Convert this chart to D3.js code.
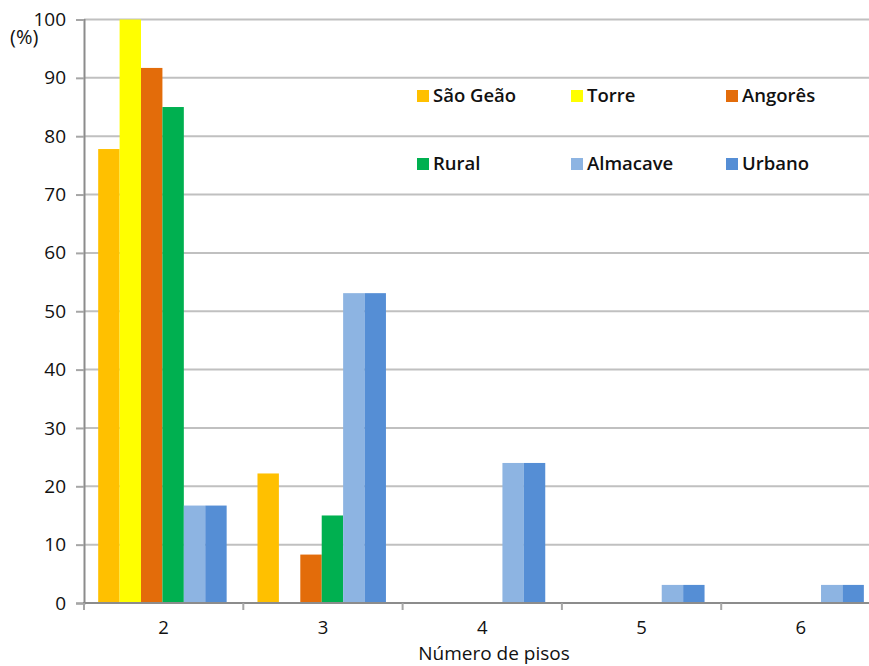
<!DOCTYPE html>
<html>
<head>
<meta charset="utf-8">
<script src="https://cdn.jsdelivr.net/npm/d3@7"></script>
<style>
  html, body { margin: 0; padding: 0; background: #fff; }
  svg { display: block; }
  text { font-family: "Open Sans", "DejaVu Sans", sans-serif; fill: #111; }
</style>
</head>
<body>
<svg id="chart" width="869" height="666"></svg>
<script>
// Floors per building, share of buildings (%) for each area
const categories = ["2", "3", "4", "5", "6"];
const seriesNames = ["São Geão", "Torre", "Angorês", "Rural", "Almacave", "Urbano"];
const seriesColors = ["#FFC000", "#FFFF00", "#E36C0A", "#00B050", "#8DB4E2", "#558ED5"];
const saoGeao  = [77.8, 22.2, 0, 0, 0];
const torre    = [100, 0, 0, 0, 0];
const angores  = [91.7, 8.3, 0, 0, 0];
const rural    = [85, 15, 0, 0, 0];
const almacave = [16.7, 53.1, 24, 3.1, 3.1];
const urbano   = [16.7, 53.1, 24, 3.1, 3.1];
const yTicks = [0, 10, 20, 30, 40, 50, 60, 70, 80, 90, 100];

const seriesValues = [saoGeao, torre, angores, rural, almacave, urbano];

(function draw() {
  const svg = d3.select("#chart");
  const mLeft = 84, mRight = 880.5, mTop = 19.5, mBottom = 603;

  const x = d3.scaleBand().domain(categories).range([mLeft, mRight]).paddingInner(0).paddingOuter(0);
  const xs = d3.scaleBand().domain(seriesNames).range([0, x.bandwidth()])
    .paddingInner(0).paddingOuter(0.72).align(0.46);
  const y = d3.scaleLinear().domain([0, 100]).range([mBottom, mTop]);

  // horizontal gridlines
  svg.append("g").selectAll("line").data(yTicks.filter(d => d > 0)).join("line")
    .attr("x1", mLeft).attr("x2", 869)
    .attr("y1", d => y(d)).attr("y2", d => y(d))
    .attr("stroke", "#c0c0c0").attr("stroke-width", 2);

  // bars
  const groups = svg.append("g").selectAll("g").data(seriesNames).join("g")
    .attr("fill", (d, i) => seriesColors[i]);
  groups.selectAll("rect")
    .data((name, i) => categories.map((c, j) => ({ c, name, v: seriesValues[i][j] })))
    .join("rect")
    .attr("x", d => x(d.c) + xs(d.name))
    .attr("width", xs.bandwidth())
    .attr("y", d => y(d.v))
    .attr("height", d => y(0) - y(d.v));

  // y axis
  const yAxis = svg.append("g").attr("transform", `translate(${mLeft},0)`)
    .call(d3.axisLeft(y).tickValues(yTicks).tickSize(8).tickPadding(10));
  yAxis.select(".domain").attr("stroke", "#8c8c8c").attr("stroke-width", 2);
  yAxis.selectAll(".tick line").attr("stroke", "#a6a6a6").attr("stroke-width", 2);
  yAxis.selectAll(".tick text").style("font-size", "19px").attr("fill", "#111");

  // x axis
  svg.append("line").attr("x1", mLeft - 1).attr("x2", 869).attr("y1", mBottom).attr("y2", mBottom)
    .attr("stroke", "#8c8c8c").attr("stroke-width", 2);
  svg.append("g").selectAll("line").data(categories).join("line")
    .attr("x1", d => x(d)).attr("x2", d => x(d))
    .attr("y1", mBottom).attr("y2", mBottom + 7)
    .attr("stroke", "#a6a6a6").attr("stroke-width", 2);
  svg.append("g").selectAll("text").data(categories).join("text")
    .attr("x", d => x(d) + x.bandwidth() / 2).attr("y", 634)
    .attr("text-anchor", "middle").style("font-size", "18.5px")
    .text(d => d);

  // axis titles
  svg.append("text").attr("x", 10).attr("y", 44).style("font-size", "20px").text("(%)");
  svg.append("text").attr("x", 494).attr("y", 660).attr("text-anchor", "middle")
    .style("font-size", "19px").text("Número de pisos");

  // legend, two rows of three
  const legX = [417, 571, 726], legY = [90, 158];
  const leg = svg.append("g").selectAll("g").data(seriesNames).join("g")
    .attr("transform", (d, i) => `translate(${legX[i % 3]},${legY[Math.floor(i / 3)]})`);
  leg.append("rect").attr("width", 12).attr("height", 12).attr("fill", (d, i) => seriesColors[i]);
  leg.append("text").attr("x", 16).attr("y", 12).style("font-size", "18.5px")
    .style("font-weight", 600).text(d => d);
})();
</script>
</body>
</html>
